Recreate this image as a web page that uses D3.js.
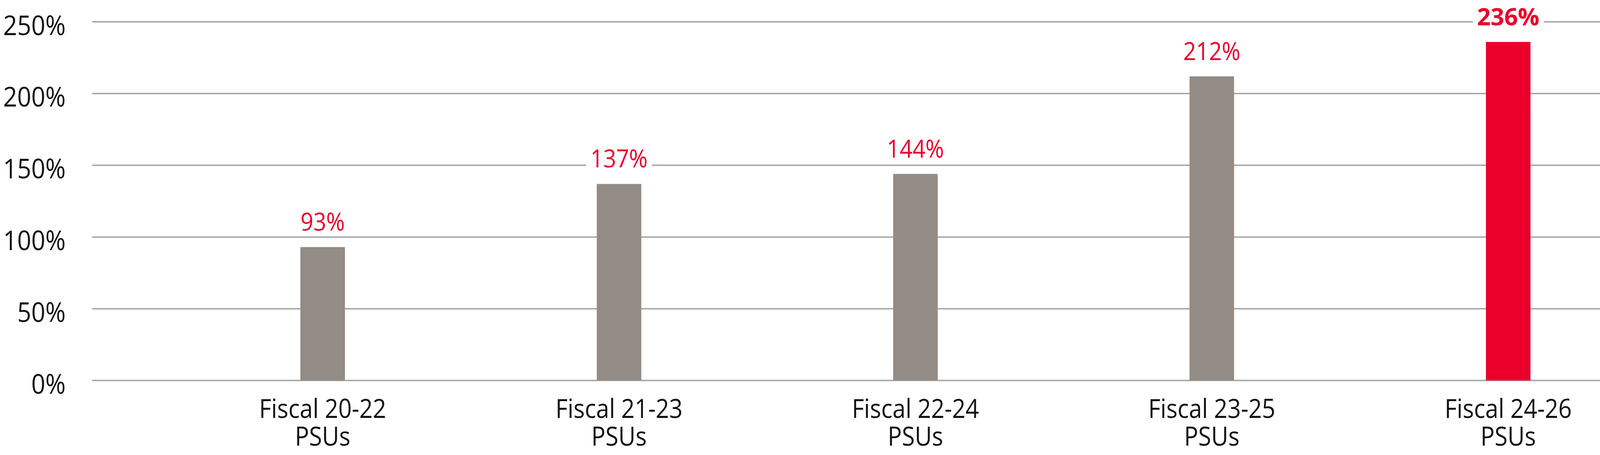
<!DOCTYPE html>
<html>
<head>
<meta charset="utf-8">
<script src="https://cdn.jsdelivr.net/npm/d3@7"></script>
<style>
    html, body { margin: 0; padding: 0; background: #fff; }
    svg { display: block; font-family: "Open Sans", "Noto Sans", sans-serif; }
</style>
</head>
<body>
<div id="chart"></div>
<script>
// Kategorien (zweizeilig) und Werte in Prozent
const categories = ["Fiscal 20-22", "Fiscal 21-23", "Fiscal 22-24", "Fiscal 23-25", "Fiscal 24-26"];
const subLabels = ["PSUs", "PSUs", "PSUs", "PSUs", "PSUs"];
const values = [93, 137, 144, 212, 236];
const highlight = [false, false, false, false, true];
const yTicks = [0, 50, 100, 150, 200, 250];

const width = 4200;
const height = 1166;

const GREY = "#938b86";
const RED = "#ea002b";
const GRID = "#a3a3a3";
// Schrift etwas schmaler, damit sie der Vorlage (Myriad-artig) naeher kommt
const NARROW = "scale(0.9,1)";

const svg = d3.select("#chart")
    .append("svg")
    .attr("width", width)
    .attr("height", height)
    .attr("viewBox", [0, 0, width, height]);

const y = d3.scaleLinear().domain([0, 250]).range([975, 56]);
const x = d3.scalePoint().domain(categories).range([826, 3861]);
const barWidth = 114;

// Gitterlinien
svg.append("g")
    .selectAll("line")
    .data(yTicks)
    .join("line")
    .attr("x1", 236)
    .attr("x2", width)
    .attr("y1", d => y(d))
    .attr("y2", d => y(d))
    .attr("stroke", GRID)
    .attr("stroke-width", 3.5);

// Y-Achse
const yAxis = d3.axisLeft(y)
    .tickValues(yTicks)
    .tickFormat(d => d + "%")
    .tickSize(0)
    .tickPadding(0);

svg.append("g")
    .attr("transform", "translate(168,0)")
    .call(yAxis)
    .attr("font-family", null)
    .attr("font-size", null)
    .call(g => g.select(".domain").remove())
    .call(g => g.selectAll("text")
        .attr("x", 0)
        .attr("dy", 33)
        .attr("font-size", 70)
        .attr("fill", "#111")
        .attr("transform", NARROW));

const data = categories.map((c, i) => ({ cat: c, sub: subLabels[i], value: values[i], hl: highlight[i] }));

// Balken
svg.append("g")
    .selectAll("rect")
    .data(data)
    .join("rect")
    .attr("x", d => x(d.cat) - barWidth / 2)
    .attr("width", barWidth)
    .attr("y", d => y(d.value))
    .attr("height", d => y(0) - y(d.value))
    .attr("fill", d => d.hl ? RED : GREY);

// Wertbeschriftungen mit weissem Hintergrund
const labels = svg.append("g")
    .selectAll("g")
    .data(data)
    .join("g")
    .attr("transform", d => `translate(${x(d.cat)},${y(d.value) - 42})`);

labels.append("rect").attr("fill", "#fff");

labels.append("text")
    .attr("text-anchor", "middle")
    .attr("font-size", d => d.hl ? 61 : 64)
    .attr("font-weight", d => d.hl ? 700 : 400)
    .attr("fill", RED)
    .attr("transform", d => d.hl ? null : NARROW)
    .text(d => d.value + "%");

labels.each(function (d) {
    const t = d3.select(this).select("text").node().getBBox();
    const k = d.hl ? 1 : 0.9;
    d3.select(this).select("rect")
        .attr("x", t.x * k - 11)
        .attr("y", t.y + 10)
        .attr("width", t.width * k + 22)
        .attr("height", t.height - 20);
});

// X-Achse (zweizeilig)
const xl = svg.append("g")
    .selectAll("g")
    .data(data)
    .join("g")
    .attr("transform", d => `translate(${x(d.cat)},0) ${NARROW}`)
    .append("text")
    .attr("text-anchor", "middle")
    .attr("font-size", 67)
    .attr("fill", "#111");

xl.append("tspan").attr("x", 0).attr("y", 1071).text(d => d.cat);
xl.append("tspan").attr("x", 0).attr("y", 1142).text(d => d.sub);
</script>
</body>
</html>
